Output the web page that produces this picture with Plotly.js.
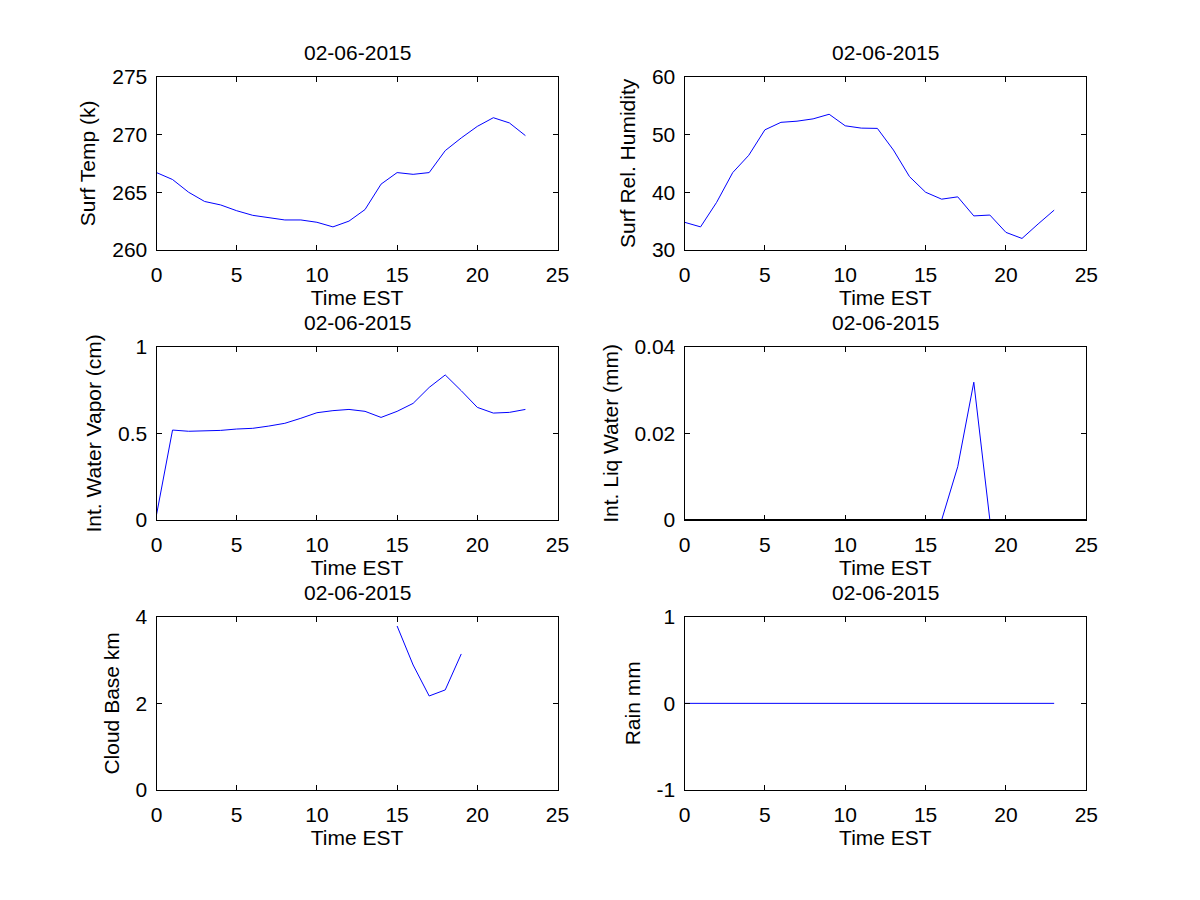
<!DOCTYPE html>
<html>
<head>
<meta charset="utf-8">
<script src="https://cdn.plot.ly/plotly-3.0.1.min.js"></script>
<style>html,body{margin:0;padding:0;background:#fff;}#chart{width:1200px;height:900px;}</style>
</head>
<body>
<div id="chart"></div>
<script>
const hours = [0,1,2,3,4,5,6,7,8,9,10,11,12,13,14,15,16,17,18,19,20,21,22,23];
const dateLabel = "02-06-2015";
const surfTemp = [266.7,266.1,265.0,264.2,263.9,263.4,263.0,262.8,262.6,262.6,262.4,262.0,262.5,263.5,265.7,266.7,266.55,266.7,268.6,269.7,270.7,271.45,271.0,269.9];
const surfRH = [34.8,34.0,38.25,43.4,46.4,50.8,52.1,52.3,52.7,53.5,51.5,51.1,51.05,47.3,42.7,40.0,38.8,39.2,35.9,36.05,33.05,32.0,34.5,36.9];
const waterVapor = [0.03,0.519,0.512,0.515,0.517,0.525,0.529,0.542,0.558,0.587,0.619,0.631,0.638,0.627,0.592,0.627,0.673,0.765,0.837,0.746,0.65,0.617,0.621,0.638];
const liqWater = [0,0,0,0,0,0,0,0,0,0,0,0,0,0,0,0,0,0.0123,0.0318,0,0,0,0,0];
const cloudBase = [null,null,null,null,null,null,null,null,null,null,null,null,null,null,null,3.785,2.885,2.17,2.31,3.14,null,null,null,null];
const rain = [0,0,0,0,0,0,0,0,0,0,0,0,0,0,0,0,0,0,0,0,0,0,0,0];
const xTitle = "Time EST";
const yTitles = ["Surf Temp (k)","Surf Rel. Humidity","Int. Water Vapor (cm)","Int. Liq Water (mm)","Cloud Base km","Rain mm"];
const series = [surfTemp, surfRH, waterVapor, liqWater, cloudBase, rain];
const yRanges = [[260,275],[30,60],[0,1],[0,0.04],[0,4],[-1,1]];
const yTickVals = [[260,265,270,275],[30,40,50,60],[0,0.5,1],[0,0.02,0.04],[0,2,4],[-1,0,1]];
const yTickText = [["260","265","270","275"],["30","40","50","60"],["0","0.5","1"],["0","0.02","0.04"],["0","2","4"],["-1","0","1"]];
const xTickVals = [0,5,10,15,20,25];

const W = 1200, H = 900;
const colX = [[156.5,557.5],[684.5,1086.3]];
const rowY = [[76.7,250],[346.7,520],[616.7,790]];
const font = {family: "Liberation Sans, Arial, sans-serif", size: 21, color: "#000"};

const data = [];
const layout = {
  width: W, height: H,
  margin: {l:0, r:0, t:0, b:0},
  paper_bgcolor: "#fff", plot_bgcolor: "#fff",
  showlegend: false,
  font: font,
  annotations: [],
  shapes: []
};

for (let i = 0; i < 6; i++) {
  const r = Math.floor(i/2), c = i % 2;
  const n = i + 1;
  const xa = "xaxis" + (n === 1 ? "" : n), ya = "yaxis" + (n === 1 ? "" : n);
  const xr = "x" + (n === 1 ? "" : n), yr = "y" + (n === 1 ? "" : n);
  data.push({
    x: hours, y: series[i], xaxis: xr, yaxis: yr,
    type: "scatter", mode: "lines",
    line: {color: "#0000ff", width: 1}, connectgaps: false, hoverinfo: "skip"
  });
  const common = {
    showline: true, linecolor: "#000", linewidth: 1, mirror: "ticks",
    ticks: "inside", ticklen: 5, tickwidth: 1, tickcolor: "#000",
    showgrid: false, zeroline: false, fixedrange: true, layer: "above traces",
    tickfont: font, automargin: false
  };
  layout[xa] = Object.assign({}, common, {
    domain: [colX[c][0]/W, colX[c][1]/W],
    anchor: yr, range: [0,25], tickmode: "array", tickvals: xTickVals,
    ticklabelstandoff: 6,
    title: {text: xTitle, font: font, standoff: 3}
  });
  layout[ya] = Object.assign({}, common, {
    domain: [1 - rowY[r][1]/H, 1 - rowY[r][0]/H],
    anchor: xr, range: yRanges[i], tickmode: "array",
    tickvals: yTickVals[i], ticktext: yTickText[i],
    ticklabelstandoff: 4,
    title: {text: yTitles[i], font: font, standoff: 10}
  });
  if (i === 3) {
    // in the original the axis box covers the part of the line lying on y = 0
    layout.shapes.push({
      type: "line", xref: xr + " domain", yref: yr + " domain",
      x0: 0, x1: 1, y0: 0, y1: 0, layer: "above",
      line: {color: "#000", width: 2}
    });
  }
  layout.annotations.push({
    text: dateLabel, xref: "paper", yref: "paper",
    x: (colX[c][0] + colX[c][1]) / 2 / W,
    y: 1 - (rowY[r][0] - 11) / H,
    xanchor: "center", yanchor: "bottom", showarrow: false, font: font
  });
}

Plotly.newPlot("chart", data, layout, {staticPlot: true});
</script>
</body>
</html>
